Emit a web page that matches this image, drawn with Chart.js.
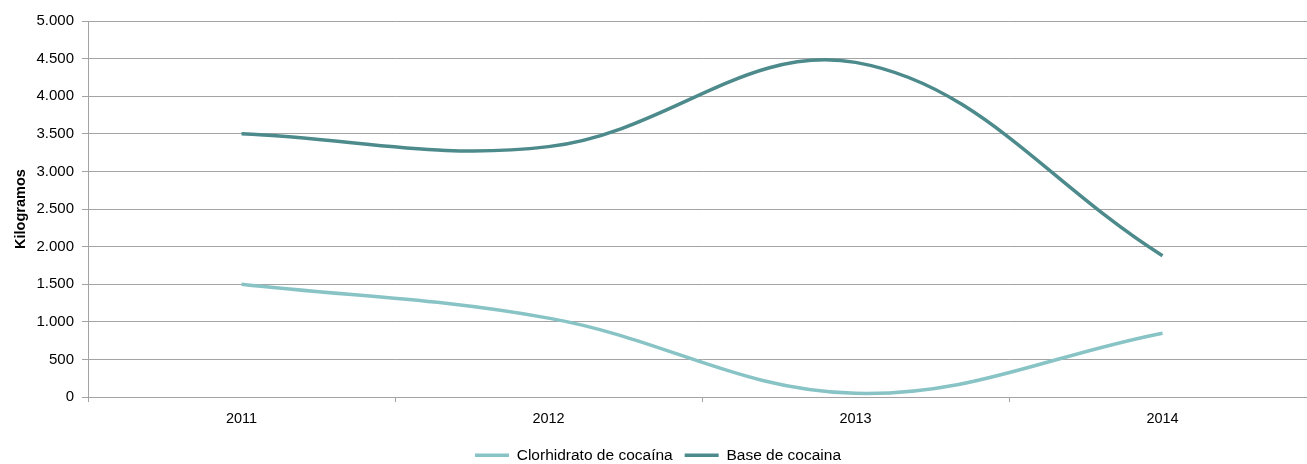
<!DOCTYPE html>
<html>
<head>
<meta charset="utf-8">
<script src="https://cdn.jsdelivr.net/npm/chart.js@4/dist/chart.umd.min.js"></script>
<style>
  html, body { margin: 0; padding: 0; background: #fff; overflow: hidden; }
  #wrap { width: 1318px; height: 473px; }
</style>
</head>
<body>
<div id="wrap"><canvas id="chart"></canvas></div>
<script>
const years = ['2011', '2012', '2013', '2014'];
const clorhidrato = [1500, 1050, 50, 850];
const baseCocaina = [3500, 3330, 4450, 1880];

const gridGray = '#a3a3a3';

function formatMiles(v) {
    return String(v).replace(/\B(?=(\d{3})+(?!\d))/g, '.');
}

Chart.defaults.font.family = '"Liberation Sans", Arial, sans-serif';
Chart.defaults.color = '#000';

const ctx = document.getElementById('chart').getContext('2d');
const chart = new Chart(ctx, {
    type: 'line',
    data: {
        labels: years,
        datasets: [{
            label: 'Clorhidrato de cocaína',
            data: clorhidrato,
            borderColor: '#88c3c5',
            backgroundColor: '#88c3c5',
            borderWidth: 3.5,
            pointRadius: 0,
            tension: 0.38
        }, {
            label: 'Base de cocaina',
            data: baseCocaina,
            borderColor: '#4d8a8c',
            backgroundColor: '#4d8a8c',
            borderWidth: 3.5,
            pointRadius: 0,
            tension: 0.38
        }]
    },
    options: {
        responsive: true,
        maintainAspectRatio: false,
        animation: false,
        layout: { padding: { top: 21, right: 2, left: 0, bottom: 0 } },
        plugins: {
            legend: {
                position: 'bottom',
                labels: {
                    usePointStyle: true,
                    pointStyle: 'line',
                    pointStyleWidth: 34,
                    boxHeight: 3,
                    padding: 12,
                    font: { size: 15.5, lineHeight: 1 }
                }
            },
            tooltip: { enabled: false }
        },
        scales: {
            x: {
                offset: true,
                grid: {
                    offset: true,
                    drawOnChartArea: false,
                    color: gridGray,
                    tickLength: 5
                },
                border: { color: gridGray },
                ticks: { padding: 8, font: { size: 14.5 } }
            },
            y: {
                min: 0,
                max: 5000,
                ticks: {
                    stepSize: 500,
                    padding: 8,
                    font: { size: 15 },
                    callback: function (v) { return formatMiles(v); }
                },
                grid: { color: gridGray, tickLength: 6 },
                border: { color: gridGray },
                title: {
                    display: true,
                    text: 'Kilogramos',
                    font: { size: 14.5, weight: 'bold', lineHeight: 1 },
                    padding: { top: 14, bottom: 0 }
                }
            }
        }
    }
});
</script>
</body>
</html>
